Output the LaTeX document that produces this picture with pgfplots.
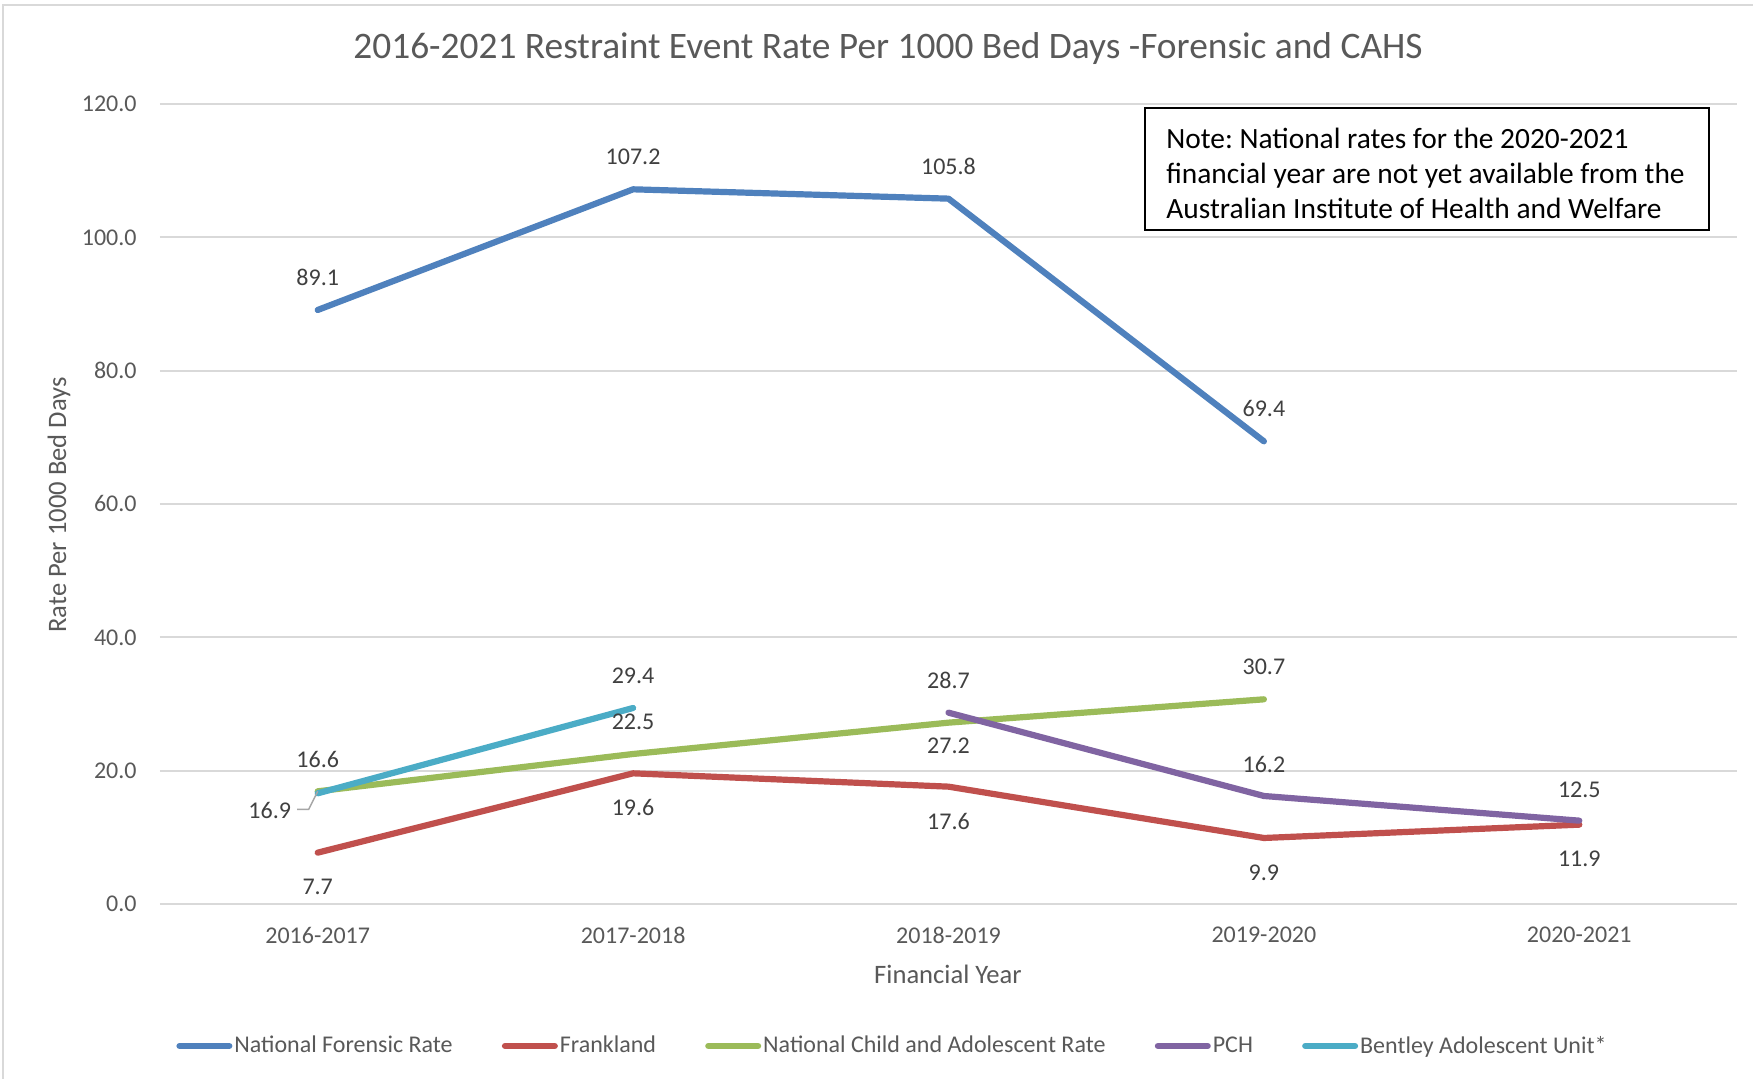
\documentclass[border=0pt]{standalone}
\usepackage{fontspec}
\setmainfont{Carlito}
\frenchspacing
\usepackage{pgfplots}
\pgfplotsset{compat=1.18}
\definecolor{cBlue}{HTML}{4F81BD}
\definecolor{cRed}{HTML}{C0504D}
\definecolor{cGreen}{HTML}{9BBB59}
\definecolor{cPurple}{HTML}{8064A2}
\definecolor{cAqua}{HTML}{4BACC6}
\definecolor{txt}{HTML}{595959}
\definecolor{lab}{HTML}{404040}
\definecolor{gridc}{HTML}{D9D9D9}
\pgfplotsset{
  serie/.style={#1, line width=3.1pt, line cap=round, line join=round,
    forget plot,
    nodes near coords, point meta=explicit symbolic,
    visualization depends on={\thisrow{dx}\as\dx},
    visualization depends on={\thisrow{dy}\as\dy}},
}
\begin{document}
\begin{tikzpicture}
\path[use as bounding box, fill=white] (0,0) rectangle (876.5pt,539.5pt);
\draw[gridc, line width=1pt] (1.5pt,0) -- (1.5pt,537pt) -- (876.5pt,537pt);
\begin{axis}[
  at={(80pt,87.5pt)}, anchor=south west,
  scale only axis, width=788.5pt, height=400pt,
  xmin=-0.5, xmax=4.5, ymin=0, ymax=120,
  xtick={0,1,2,3,4},
  xticklabels={2016-2017,2017-2018,2018-2019,2019-2020,2020-2021},
  ytick={0,20,...,120},
  ymajorgrids, grid style={gridc, line width=1pt},
  axis line style={draw=none},
  major tick length=0pt,
  /pgf/number format/fixed, /pgf/number format/fixed zerofill,
  /pgf/number format/precision=1, /pgf/number format/assume math mode=true,
  tick label style={font=\fontsize{12}{14}\selectfont, text=txt},
  yticklabel style={anchor=east, inner sep=0pt, xshift=-11.5pt},
  xticklabel style={anchor=center, inner sep=0pt, yshift=-15.5pt},
  nodes near coords align={center},
  every node near coord/.append style={font=\fontsize{12}{14}\selectfont, text=lab, anchor=center, inner sep=0pt, xshift=\dx pt, yshift=\dy pt},
  legend style={at={(0.4645,-0.1775)}, anchor=center, draw=none, fill=none,
    legend columns=5, font=\fontsize{12}{14}\selectfont, text=txt,
    /tikz/every even column/.append style={column sep=23.6pt},
    nodes={inner sep=1pt}},
  legend image code/.code={\draw[#1, line width=3.2pt, line cap=round] (1.6pt,0pt) -- (26.4pt,0pt);},
]
\addplot[serie=cBlue] table[x=x,y=y,meta=lab]{
x y lab dx dy
0 89.1 89.1 0 16.2
1 107.2 107.2 0 16.2
2 105.8 105.8 0 16.2
3 69.4 69.4 0 16.2
};
\addplot[serie=cRed] table[x=x,y=y,meta=lab]{
x y lab dx dy
0 7.7 7.7 0 -17.3
1 19.6 19.6 0 -17.3
2 17.6 17.6 0 -17.3
3 9.9 9.9 0 -17.3
4 11.9 11.9 0 -17.3
};
\addplot[serie=cGreen] table[x=x,y=y,meta=lab]{
x y lab dx dy
0 16.9 16.9 -24 -9.7
1 22.5 22.5 0 16.2
2 27.2 27.2 0 -11.7
3 30.7 30.7 0 16.2
};
\addplot[serie=cPurple] table[x=x,y=y,meta=lab]{
x y lab dx dy
2 28.7 28.7 0 16.2
3 16.2 16.2 0 15.6
4 12.5 12.5 0 15.6
};
\addplot[serie=cAqua] table[x=x,y=y,meta=lab]{
x y lab dx dy
0 16.6 16.6 0 16.8
1 29.4 29.4 0 16.2
};
\draw[black!35, line width=0.75pt] ([xshift=-10.25pt,yshift=-9pt]axis cs:0,16.9) -- ([xshift=-4.5pt,yshift=-9pt]axis cs:0,16.9) -- (axis cs:0,16.9);
\addlegendimage{cBlue}\addlegendentry{National Forensic Rate}
\addlegendimage{cRed}\addlegendentry{Frankland}
\addlegendimage{cGreen}\addlegendentry{National Child and Adolescent Rate}
\addlegendimage{cPurple}\addlegendentry{PCH}
\addlegendimage{cAqua}\addlegendentry{Bentley Adolescent Unit*}
\end{axis}
\node[text=txt, font=\fontsize{18.7}{22}\selectfont] at (444pt,515pt) {2016-2021 Restraint Event Rate Per 1000 Bed Days -Forensic and CAHS};
\node[text=txt, font=\fontsize{13.3}{16}\selectfont] at (474pt,52.5pt) {Financial Year};
\node[text=txt, font=\fontsize{13.3}{16}\selectfont, rotate=90] at (29.5pt,287pt) {Rate Per 1000 Bed Days};
\draw[black, line width=1pt, fill=white] (572.5pt,424.5pt) rectangle (854.5pt,485.5pt);
\node[anchor=west, align=left, inner sep=0pt, font=\fontsize{14.7}{17.5}\selectfont] at (583pt,453pt) {Note: National rates for the 2020-2021\\financial year are not yet available from the\\Australian Institute of Health and Welfare};
\end{tikzpicture}
\end{document}
